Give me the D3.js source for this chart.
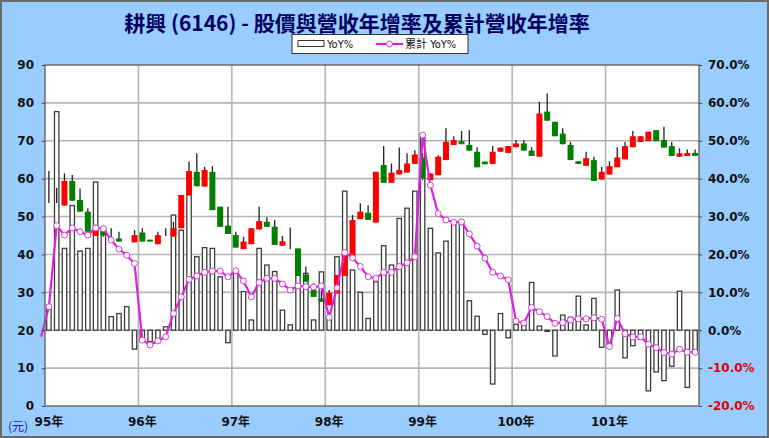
<!DOCTYPE html>
<html><head><meta charset="utf-8">
<script src="https://cdn.jsdelivr.net/npm/d3@7"></script>
<style>body{margin:0;background:#fff} svg{display:block}</style>
</head><body>
<svg id="c" width="769" height="438"></svg>
<script>
// ---------------- DATA ----------------
const years = ["95年","96年","97年","98年","99年","100年","101年"];
const months = years.flatMap(y => d3.range(1,13).map(m => y + String(m).padStart(2,"0") + "月"));

// monthly price candles (元); null = no candle
const openP  = [57.8,55.5,52.9,59.4,54.4,51.3,44.9,46.5,45.0,44.2,null,43.2,
                45.8,43.9,42.7,45.0,44.7,46.9,55.7,61.8,57.9,61.8,52.6,47.6,
                45.1,41.4,42.7,46.6,48.6,47.3,42.3,41.6,41.6,34.6,30.6,28.4,
                26.6,29.7,34.3,39.4,49.3,51.0,48.4,63.6,58.9,61.1,61.6,63.9,
                65.5,59.6,60.9,64.9,68.9,69.9,68.9,67.1,64.5,63.9,67.1,66.8,
                68.3,69.3,67.4,65.8,77.7,75.0,71.9,68.9,64.6,63.4,64.9,59.8,
                61.1,63.0,65.1,68.3,69.7,69.9,72.8,70.2,68.6,65.8,66.0,66.8];
const highP  = [62.0,57.6,61.4,61.0,57.4,52.2,47.8,46.9,46.9,46.0,null,46.4,
                46.9,43.9,46.0,46.9,48.6,55.7,64.5,66.7,63.1,63.3,52.6,52.6,
                46.0,44.7,46.9,52.6,49.8,49.1,44.9,47.1,41.6,36.8,32.4,30.6,
                30.6,34.6,40.4,50.4,53.5,53.0,61.8,68.6,64.0,68.2,66.7,67.5,
                66.7,61.4,66.2,73.3,71.2,72.6,72.8,68.3,64.5,68.6,68.2,68.6,
                70.2,70.2,68.3,80.3,82.5,75.0,73.3,69.7,64.6,67.1,65.8,63.1,
                64.6,68.3,69.7,72.6,71.2,72.4,72.8,73.7,69.7,68.0,67.7,67.7];
const lowP   = [53.6,53.6,52.9,54.2,51.3,46.0,44.9,44.7,43.4,43.4,null,43.2,
                43.4,43.4,42.7,44.9,44.7,46.9,55.7,58.0,57.9,51.7,47.3,45.4,
                41.8,41.4,42.7,46.6,47.3,42.5,42.3,41.4,34.3,32.8,28.8,27.5,
                26.6,29.7,34.3,39.4,49.3,49.1,48.4,58.9,58.9,61.1,61.6,63.9,
                59.6,59.6,60.9,64.9,68.9,69.1,67.4,63.0,63.8,63.9,67.1,66.8,
                68.3,67.4,66.0,65.8,75.3,71.2,69.1,64.9,63.9,63.4,59.4,59.8,
                61.1,63.0,65.1,68.3,69.7,69.9,69.9,68.2,66.0,65.8,66.0,66.0];
const closeP = [57.8,55.5,59.4,54.2,51.3,46.0,46.4,45.0,45.0,43.4,null,45.1,
                43.4,43.4,45.1,45.0,46.9,55.7,62.0,58.0,62.3,51.7,47.3,45.4,
                41.8,43.4,46.9,48.8,47.3,42.5,43.5,41.6,34.3,32.8,28.8,27.5,
                29.9,34.6,40.4,49.1,51.3,49.1,61.8,58.9,61.6,62.3,64.0,66.4,
                60.0,61.4,65.8,69.7,70.2,69.1,67.4,63.0,63.8,67.1,68.2,68.6,
                69.3,67.4,66.0,77.2,75.3,71.2,69.1,64.9,63.9,65.4,59.4,61.8,
                63.3,65.6,68.6,71.2,71.2,72.4,69.9,68.2,66.0,66.7,66.8,66.0];

// monthly revenue YoY %
const yoy = [6.4,57.7,21.6,32.9,20.9,21.6,39.1,26.0,3.6,4.4,6.2,-5.0,
             -2.8,-3.0,-2.4,0.9,30.4,26.4,35.7,19.4,21.8,21.6,14.1,-3.3,
             15.0,10.2,2.7,21.6,17.2,15.5,5.3,1.4,17.0,15.0,2.7,15.4,
             3.4,19.4,36.7,15.9,10.0,3.1,12.8,22.3,17.2,29.5,32.2,36.7,
             51.5,26.9,20.4,23.5,28.2,28.2,7.8,3.7,-1.1,-14.2,4.4,-2.0,
             1.5,1.4,12.6,1.1,-0.3,-6.8,4.0,3.4,9.0,1.4,8.4,-4.5,
             -4.3,10.6,-7.3,-4.1,-2.4,-16.0,-11.0,-13.3,-9.5,10.3,-15.1,-6.0];

// cumulative revenue YoY %; first value is 94年12月 (just left of the axis)
const cumYoY = [-1.7,
             6.2,27.6,25.1,27.0,26.0,25.1,27.0,26.8,23.8,21.4,19.8,17.6,
             -2.6,-3.9,-2.8,-1.7,4.4,8.8,13.4,14.3,15.3,15.6,15.6,14.1,
             15.7,13.0,8.8,12.6,13.7,13.7,12.2,10.6,11.7,11.5,11.4,11.7,
             3.4,11.2,20.5,19.1,16.8,14.1,13.7,15.3,15.3,16.8,17.8,19.4,
             51.5,38.3,30.8,29.1,28.5,28.6,25.4,22.2,19.0,15.3,14.3,13.3,
             2.4,1.9,6.0,4.9,3.6,1.8,2.0,2.7,3.0,3.0,3.3,2.9,
             -4.3,3.1,-0.9,-1.8,-1.7,-3.7,-4.6,-5.9,-6.3,-5.0,-5.8,-5.8];

const priceTicks = [0,10,20,30,40,50,60,70,80,90];
const pctTicks = [-20,-10,0,10,20,30,40,50,60,70];

// ---------------- CHART ----------------
const W = 769, H = 438;
const m = {l:45, r:699, t:65, b:406};
const svg = d3.select("#c");

svg.append("rect").attr("x",1).attr("y",1).attr("width",W-2).attr("height",H-2)
  .attr("fill","#99ccff").attr("stroke","#6a6a6a").attr("stroke-width",2);

const x = d3.scaleBand().domain(months).range([m.l, m.r]).padding(0);
const cx = i => x(months[i]) + x.bandwidth()/2;
const yL = d3.scaleLinear().domain([0,90]).range([m.b, m.t]);
const yR = d3.scaleLinear().domain([-20,70]).range([m.b, m.t]);

// plot background
svg.append("rect").attr("x",m.l).attr("y",m.t).attr("width",m.r-m.l).attr("height",m.b-m.t)
  .attr("fill","#fff");

// grid
const g = svg.append("g");
g.selectAll("line.h").data(priceTicks.slice(1,-1)).join("line")
  .attr("x1",m.l).attr("x2",m.r).attr("y1",d=>yL(d)).attr("y2",d=>yL(d))
  .attr("stroke","#b4b4b4").attr("stroke-width",1.6);
g.selectAll("line.v").data(d3.range(1, years.length)).join("line")
  .attr("x1",k=>x(months[k*12])).attr("x2",k=>x(months[k*12]))
  .attr("y1",m.t).attr("y2",m.b)
  .attr("stroke","#b4b4b4").attr("stroke-width",1.6);

// YoY bars
const bw = 4.4;
svg.append("g").selectAll("rect").data(yoy).join("rect")
  .attr("x",(d,i)=>cx(i)-bw/2)
  .attr("y",d=>Math.min(yR(d),yR(0)))
  .attr("width",bw)
  .attr("height",d=>Math.max(0.5,Math.abs(yR(d)-yR(0))))
  .attr("fill","#fff").attr("stroke","#3c3c3c").attr("stroke-width",1.3);

// candles
const cw = 6;
const cg = svg.append("g");
months.forEach((mo,i)=>{
  if (openP[i]==null) return;
  const o=openP[i], c=closeP[i], h=highP[i], l=lowP[i];
  cg.append("line").attr("x1",cx(i)).attr("x2",cx(i))
    .attr("y1",yL(h)).attr("y2",yL(l)).attr("stroke","#202020").attr("stroke-width",1.3);
  if (o===c) return;
  const col = c>o ? "#ff0000" : "#008000";
  const top = yL(Math.max(o,c)), hh = Math.abs(yL(o)-yL(c));
  cg.append("rect").attr("x",cx(i)-cw/2).attr("y",top)
    .attr("width",cw).attr("height",Math.max(1.5,hh)).attr("fill",col);
});

// cumulative YoY line
const cumX = i => cx(0) + (i-1)*x.step();
const line = d3.line().x((d,i)=>cumX(i)).y(d=>yR(d));
svg.append("path").datum(cumYoY).attr("d",line)
  .attr("fill","none").attr("stroke","#e020e0").attr("stroke-width",2.2);
svg.append("g").selectAll("circle").data(cumYoY.slice(1)).join("circle")
  .attr("cx",(d,i)=>cumX(i+1)).attr("cy",d=>yR(d)).attr("r",3)
  .attr("fill","#fff").attr("stroke","#d040d0").attr("stroke-width",1);

// frame
svg.append("rect").attr("x",m.l).attr("y",m.t).attr("width",m.r-m.l).attr("height",m.b-m.t)
  .attr("fill","none").attr("stroke","#6e6e6e").attr("stroke-width",1.5);

// axes
const axFont = "'DejaVu Sans', Verdana, sans-serif";
const aL = svg.append("g").attr("transform",`translate(${m.l},0)`)
  .call(d3.axisLeft(yL).tickValues(priceTicks).tickSize(3).tickPadding(8));
aL.select(".domain").remove();
aL.selectAll("line").attr("stroke","#444");
aL.selectAll("text").attr("font-family",axFont).attr("font-weight","bold")
  .attr("font-size",12).attr("fill","#111");

const aR = svg.append("g").attr("transform",`translate(${m.r},0)`)
  .call(d3.axisRight(yR).tickValues(pctTicks).tickSize(3).tickPadding(6)
        .tickFormat(d=>d.toFixed(1)+"%"));
aR.select(".domain").remove();
aR.selectAll("line").attr("stroke","#444");
aR.selectAll("text").attr("font-family",axFont).attr("font-weight","bold")
  .attr("font-size",12).attr("fill",d=>d<0?"#e00000":"#111");

const aB = svg.append("g").attr("transform",`translate(0,${m.b})`)
  .call(d3.axisBottom(x).tickValues(years.map((y,k)=>months[k*12]))
        .tickSize(0).tickPadding(11).tickFormat(d=>d.slice(0, d.indexOf("年")+1)));
aB.select(".domain").remove();
aB.selectAll("text").attr("font-family",axFont+", 'Noto Sans CJK TC'").attr("font-weight","bold")
  .attr("font-size",12).attr("fill","#111");

svg.append("text").attr("x",8).attr("y",431).text("(元)")
  .attr("font-family","'Noto Sans CJK TC', sans-serif").attr("font-size",12)
  .attr("fill","#2020c0");

// title
svg.append("text").attr("x",357).attr("y",31).attr("text-anchor","middle")
  .text("耕興 (6146) - 股價與營收年增率及累計營收年增率")
  .attr("font-family","'Noto Sans CJK TC', sans-serif").attr("font-weight","bold")
  .attr("font-size",21).attr("fill","#00005e");

// legend
const lg = svg.append("g");
lg.append("rect").attr("x",292).attr("y",34.5).attr("width",176).attr("height",19)
  .attr("fill","#fff").attr("stroke","#333").attr("stroke-width",1);
lg.append("rect").attr("x",298).attr("y",40.5).attr("width",26).attr("height",6)
  .attr("fill","#fff").attr("stroke","#333").attr("stroke-width",1);
const lf = "'Liberation Sans Narrow','DejaVu Sans Condensed','Noto Sans CJK TC',sans-serif";
lg.append("text").attr("x",327).attr("y",48).text("YoY%")
  .attr("font-family",lf).attr("font-size",11).attr("fill","#111");
lg.append("line").attr("x1",376).attr("x2",403).attr("y1",44).attr("y2",44)
  .attr("stroke","#e020e0").attr("stroke-width",2.2);
lg.append("circle").attr("cx",389.5).attr("cy",44).attr("r",3)
  .attr("fill","#fff").attr("stroke","#d040d0");
lg.append("text").attr("x",405).attr("y",48).text("累計 YoY%")
  .attr("font-family",lf).attr("font-size",11).attr("fill","#111");
</script>
</body></html>
